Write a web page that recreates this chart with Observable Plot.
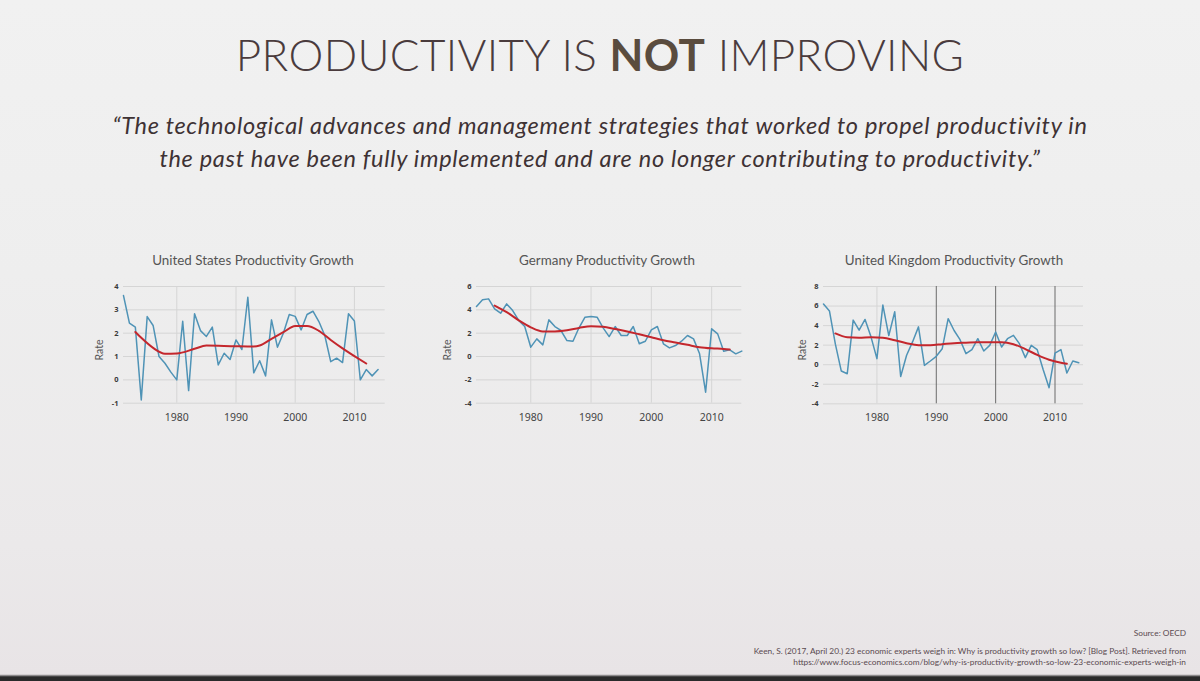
<!DOCTYPE html>
<html>
<head>
<meta charset="utf-8">
<script src="https://cdn.jsdelivr.net/npm/d3@7"></script>
<script src="https://cdn.jsdelivr.net/npm/@observablehq/plot@0.6"></script>
<style>
  html, body { margin: 0; padding: 0; }
  body { width: 1200px; height: 681px; overflow: hidden; }
  #page {
    position: relative; width: 1200px; height: 681px; overflow: hidden;
    background: linear-gradient(180deg, #f1f1f1 0%, #eeeeee 40%, #ebe9ea 80%, #e8e4e6 99%, #2a2a2a 99.4%);
    font-family: Lato, "Open Sans", sans-serif;
  }
  .abs { position: absolute; white-space: nowrap; }
  #title { left: 0; width: 1200px; top: 28px; text-align: center; font-size: 44px; font-weight: 300; color: #4a3b3d; letter-spacing: 0.35px; }
  #title b { font-weight: 700; color: #5a4c3e; }
  .quote { left: 0; width: 1200px; text-align: center; font-size: 23.5px; font-style: italic; color: #3e3234; letter-spacing: 0.7px; }
  .ctitle { font-size: 13.4px; color: #555; transform: translateX(-50%); }
  .rate { font-size: 10.5px; color: #555; transform: translate(-50%, -50%) rotate(-90deg); }
  .foot { right: 14px; font-size: 8.3px; color: #5a4a50; text-align: right; }
  .chart { position: absolute; }
</style>
</head>
<body>
<div id="page">
  <div id="title" class="abs">PRODUCTIVITY IS <b>NOT</b> IMPROVING</div>
  <div class="abs quote" style="top:111px">“The technological advances and management strategies that worked to propel productivity in</div>
  <div class="abs quote" style="top:144px">the past have been fully implemented and are no longer contributing to productivity.”</div>
  <div class="abs foot" style="top:628px">Source: OECD</div>
  <div class="abs foot" style="top:646px; line-height:10.5px">Keen, S. (2017, April 20.) 23 economic experts weigh in: Why is productivity growth so low? [Blog Post]. Retrieved from<br>https://www.focus-economics.com/blog/why-is-productivity-growth-so-low-23-economic-experts-weigh-in</div>
</div>
<script>
// ---- data ----
const usYears = [1971,1972,1973,1974,1975,1976,1977,1978,1979,1980,1981,1982,1983,1984,1985,1986,1987,1988,1989,1990,1991,1992,1993,1994,1995,1996,1997,1998,1999,2000,2001,2002,2003,2004,2005,2006,2007,2008,2009,2010,2011,2012,2013,2014];
const usRate = [3.61,2.43,2.26,-0.86,2.71,2.33,1.0,0.71,0.33,0.0,2.51,-0.46,2.83,2.11,1.86,2.26,0.64,1.14,0.87,1.71,1.3,3.54,0.3,0.82,0.17,2.57,1.4,2.0,2.8,2.72,2.14,2.8,2.94,2.5,1.9,0.78,0.93,0.74,2.83,2.52,0.0,0.44,0.17,0.44];
const usTrendYears = [1973,1974,1976,1978,1980,1983,1985,1990,1993,1994,1996,1998,2000,2002,2004,2006,2008,2010,2012];
const usTrend = [2.05,1.8,1.37,1.12,1.13,1.33,1.47,1.44,1.43,1.47,1.76,2.04,2.31,2.31,2.1,1.71,1.35,1.02,0.7];

const deYears = [1971,1972,1973,1974,1975,1976,1977,1978,1979,1980,1981,1982,1983,1984,1985,1986,1987,1988,1989,1990,1991,1992,1993,1994,1995,1996,1997,1998,1999,2000,2001,2002,2003,2004,2005,2006,2007,2008,2009,2010,2011,2012,2013,2014,2015];
const deRate = [4.29,4.86,4.94,4.09,3.71,4.51,3.94,3.09,2.57,0.8,1.51,1.0,3.14,2.57,2.23,1.37,1.31,2.46,3.37,3.43,3.37,2.46,1.71,2.57,1.8,1.8,2.57,1.09,1.31,2.29,2.57,1.09,0.74,0.94,1.31,1.8,1.51,0.23,-3.06,2.37,1.94,0.46,0.57,0.23,0.46];
const deTrendYears = [1974,1976,1978,1980,1982,1984,1986,1988,1990,1992,1994,1996,1998,2000,2002,2004,2006,2008,2010,2012,2013];
const deTrend = [4.37,3.8,3.1,2.5,2.15,2.15,2.25,2.45,2.6,2.55,2.35,2.15,1.9,1.65,1.4,1.2,1.0,0.8,0.7,0.65,0.6];

const ukYears = [1971,1972,1973,1974,1975,1976,1977,1978,1979,1980,1981,1982,1983,1984,1985,1986,1987,1988,1989,1990,1991,1992,1993,1994,1995,1996,1997,1998,1999,2000,2001,2002,2003,2004,2005,2006,2007,2008,2009,2010,2011,2012,2013,2014];
const ukRate = [6.2,5.5,2.1,-0.65,-0.93,4.56,3.53,4.63,2.85,0.62,6.1,2.98,5.42,-1.2,0.96,2.33,3.87,-0.07,0.38,0.86,1.64,4.71,3.5,2.56,1.13,1.54,2.66,1.4,1.98,3.34,1.81,2.66,3.0,2.15,0.72,1.98,1.54,-0.5,-2.35,1.19,1.54,-0.85,0.38,0.2];
const ukTrendYears = [1973,1975,1977,1979,1981,1983,1985,1987,1989,1991,1993,1995,1997,1999,2001,2003,2005,2007,2009,2011,2012];
const ukTrend = [3.2,2.8,2.75,2.8,2.75,2.5,2.2,2.0,2.0,2.1,2.2,2.25,2.3,2.3,2.3,2.1,1.6,1.0,0.5,0.2,0.1];

const xTicks = [1980, 1990, 2000, 2010];
const usTicks = [-1, 0, 1, 2, 3, 4];
const deTicks = [-4, -2, 0, 2, 4, 6];
const ukTicks = [-4, -2, 0, 2, 4, 6, 8];

const blue = "#4f93b6";
const red = "#c4272d";
const gridColor = "#d5d5d5";

function chart(cfg) {
  const mL = 45, mR = 8, mT = 10, mB = 30;
  const w = cfg.right - cfg.left;
  const h = cfg.bottom - cfg.top;
  const series = cfg.years.map((y, i) => ({year: y, v: cfg.rate[i]}));
  const trend = cfg.trendYears.map((y, i) => ({year: y, v: cfg.trend[i]}));
  const darkV = cfg.darkV || [];
  const plot = Plot.plot({
    width: w + mL + mR,
    height: h + mT + mB,
    marginLeft: mL, marginRight: mR, marginTop: mT, marginBottom: mB,
    style: {background: "transparent", overflow: "visible"},
    x: {domain: cfg.xDomain},
    y: {domain: cfg.yDomain},
    marks: [
      Plot.ruleY(cfg.yTicks, {stroke: gridColor, strokeWidth: 1}),
      Plot.ruleX(xTicks.filter(t => !darkV.includes(t)), {stroke: gridColor, strokeWidth: 1, y1: cfg.yDomain[0], y2: cfg.yDomain[1]}),
      Plot.ruleX(darkV, {stroke: "#6a6a6a", strokeWidth: 1, y1: cfg.yDomain[0], y2: cfg.yDomain[1]}),
      Plot.axisY({ticks: cfg.yTicks, tickFormat: d => String(d), tickSize: 0, tickPadding: 5, fontSize: 7.5, fontWeight: "bold", color: "#3a3a3a", label: null}),
      Plot.axisX({ticks: xTicks, tickFormat: d => String(d), tickSize: 0, tickPadding: 10, fontSize: 10.5, color: "#444", label: null}),
      Plot.line(series, {x: "year", y: "v", stroke: blue, strokeWidth: 1.5}),
      Plot.line(trend, {x: "year", y: "v", stroke: red, strokeWidth: 2, curve: "monotone-x"})
    ]
  });
  const div = document.createElement("div");
  div.className = "chart";
  div.style.left = (cfg.left - mL) + "px";
  div.style.top = (cfg.top - mT) + "px";
  div.appendChild(plot);
  const page = document.getElementById("page");
  page.appendChild(div);
  const t = document.createElement("div");
  t.className = "abs ctitle";
  t.style.left = cfg.titleX + "px";
  t.style.top = "252px";
  t.textContent = cfg.title;
  page.appendChild(t);
  const r = document.createElement("div");
  r.className = "abs rate";
  r.style.left = cfg.rateX + "px";
  r.style.top = "350px";
  r.textContent = "Rate";
  page.appendChild(r);
}

chart({title: "United States Productivity Growth", titleX: 253, rateX: 99,
  left: 123.3, right: 385, top: 286, bottom: 402.7,
  xDomain: [1971, 2015.2], yDomain: [-1, 4], yTicks: usTicks,
  years: usYears, rate: usRate, trendYears: usTrendYears, trend: usTrend});

chart({title: "Germany Productivity Growth", titleX: 607, rateX: 447,
  left: 475.7, right: 741, top: 286, bottom: 402.7,
  xDomain: [1971, 2015], yDomain: [-4, 6], yTicks: deTicks,
  years: deYears, rate: deRate, trendYears: deTrendYears, trend: deTrend});

chart({title: "United Kingdom Productivity Growth", titleX: 954, rateX: 802,
  left: 823.3, right: 1083.3, top: 286, bottom: 403.3,
  xDomain: [1971, 2014.8], yDomain: [-4, 8], yTicks: ukTicks, darkV: [1990, 2000, 2010],
  years: ukYears, rate: ukRate, trendYears: ukTrendYears, trend: ukTrend});
</script>
</body>
</html>
